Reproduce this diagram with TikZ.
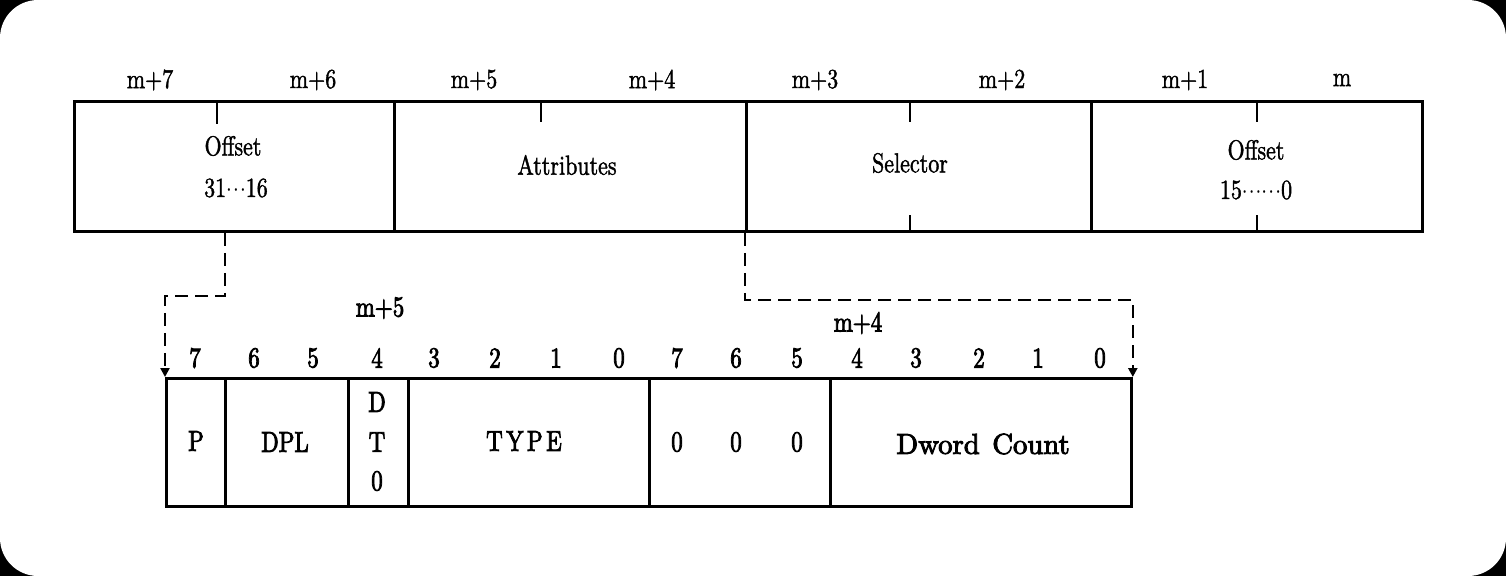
\documentclass[tikz,border=0pt]{standalone}
\usepackage{fontspec}
\usetikzlibrary{arrows.meta,calc}
\newfontfamily\heavyrm{lmroman10-regular.otf}[FakeBold=1.6]
\newfontfamily\boldrm{lmroman10-regular.otf}[FakeBold=3.2]
\newcommand{\vs}[1]{\scalebox{1}[1.25]{#1}}
\newcommand{\dts}{$\cdot\!\cdot\!\cdot$}
\begin{document}
\begin{tikzpicture}[x=1pt,y=-1pt,
  field/.style={draw, line width=2.8pt, inner sep=0pt, anchor=north west},
  lab/.style={font=\fontsize{22}{26}\heavyrm, inner sep=0pt},
  blab/.style={font=\fontsize{23}{27}\boldrm, inner sep=0pt},
  conn/.style={line width=2.4pt, dash pattern=on 13pt off 7pt, -{Triangle[width=9pt,length=9pt]}},
  tickline/.style={line width=2.4pt}]
\fill[black] (0,0) rectangle (1506,576);
\fill[white, rounded corners=38pt] (0,0) rectangle (1506,576);
\useasboundingbox (0,0) rectangle (1506,576);

% top descriptor
\node[field, minimum width=320pt, minimum height=130pt] (off1) at (73,100) {};
\node[field, minimum width=352pt, minimum height=130pt] (attr) at (393,100) {};
\node[field, minimum width=345pt, minimum height=130pt] (sel)  at (745,100) {};
\node[field, minimum width=331pt, minimum height=130pt] (off0) at (1090,100) {};

\draw[tickline] (off1.north west) ++(144,0) -- ++(0,24);
\draw[tickline] (attr.north west) ++(148,0) -- ++(0,22);
\draw[tickline] (sel.north west)  ++(165,0) -- ++(0,22);
\draw[tickline] (sel.south west)  ++(165,0) -- ++(0,-18);
\draw[tickline] (off0.north west) ++(167,0) -- ++(0,22);
\draw[tickline] (off0.south west) ++(167,0) -- ++(0,-18);

\node[lab] (t7) at (150,80)  {\vs{m+7}};
\node[lab] (t6) at (313,80)  {\vs{m+6}};
\node[lab] (t5) at (474,80)  {\vs{m+5}};
\node[lab] (t4) at (652,80)  {\vs{m+4}};
\node[lab] (t3) at (815,80)  {\vs{m+3}};
\node[lab] (t2) at (1002,80) {\vs{m+2}};
\node[lab] (t1) at (1185,80) {\vs{m+1}};
\node[lab] (t0) at (1342,80) {\vs{m}};

\node[lab] (o1a) at (233,146) {\vs{Offset}};
\node[lab] (o1b) at (236,188) {\vs{31\dts16}};
\node[lab] (atl) at (567,165) {\vs{Attributes}};
\node[lab] (sll) at (910,163) {\vs{Selector}};
\node[lab] (o0a) at (1256,150) {\vs{Offset}};
\node[lab] (o0b) at (1256,190) {\vs{15\dts\dts0}};

% bottom attribute bytes
\node[field, minimum width=59pt,  minimum height=128pt] (P)   at (165,377) {};
\node[field, minimum width=123pt, minimum height=128pt] (DPL) at (224,377) {};
\node[field, minimum width=60pt,  minimum height=128pt] (DT)  at (347,377) {};
\node[field, minimum width=241pt, minimum height=128pt] (TY)  at (407,377) {};
\node[field, minimum width=181pt, minimum height=128pt] (Z)   at (648,377) {};
\node[field, minimum width=301pt, minimum height=128pt] (DC)  at (829,377) {};

\node[blab] (lP)  at (196,441) {\vs{P}};
\node[blab] (lDPL) at (285,442) {\vs{DPL}};
\node[blab] (lD)  at (377,402) {\vs{D}};
\node[blab] (lT)  at (377,442) {\vs{T}};
\node[blab] (l0)  at (377,481) {\vs{0}};
\node[blab] (lTY) at (524,441) {\vs{T\kern3.5pt Y\kern3.5pt P\kern3.5pt E}};
\node[blab] (z1)  at (677,442) {\vs{0}};
\node[blab] (z2)  at (736,442) {\vs{0}};
\node[blab] (z3)  at (797,442) {\vs{0}};
\node[blab] (lDC) at (983,444) {\scalebox{1.25}[1.25]{Dword\hspace{10pt}Count}};

\node[blab] (h5) at (380,308) {\vs{m+5}};
\node[blab] (h4) at (858,323) {\vs{m+4}};

\foreach \x/\b [count=\i] in {195/7,254/6,313/5,377/4,434/3,495/2,556/1,619/0,677/7,736/6,797/5,857/4,916/3,979/2,1038/1,1100/0}
  \node[blab] (b\i) at (\x,358) {\vs{\b}};

% connectors
\coordinate (ls) at ($(off1.south west)+(152,0)$);
\draw[conn] (ls) -- ++(0,63) -| (P.north west);
\draw[conn] (sel.south west) -- ++(0,67) -| (DC.north east);
\end{tikzpicture}
\end{document}
